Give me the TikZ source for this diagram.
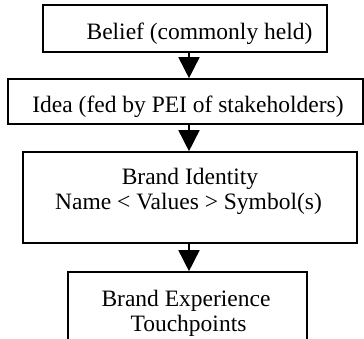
\documentclass[tikz,border=0pt]{standalone}
\usepackage{fontspec}
\setmainfont{Liberation Serif}
\usetikzlibrary{arrows.meta}
\begin{document}
\begin{tikzpicture}[x=1pt,y=-1pt,
  box/.style={draw=black,line width=1.6pt,inner sep=0pt},
  label/.style={font=\fontsize{23.5}{25}\selectfont,inner sep=0pt,anchor=base},
  flow/.style={line width=1.6pt,-{Triangle[width=21pt,length=21pt]}}]
\useasboundingbox (0,0) rectangle (364,339);
\clip (0,0) rectangle (364,339);
% boxes
\node[box,minimum width=284pt,minimum height=47pt] (belief) at (185,28.5) {};
\node[box,minimum width=355pt,minimum height=45pt] (idea) at (185.5,101.5) {};
\node[box,minimum width=334pt,minimum height=91pt] (identity) at (190,197.5) {};
\node[box,minimum width=239pt,minimum height=82pt] (experience) at (187.5,313) {};
% texts, one node per line, placed by baseline
\node[label] (tbelief) at (199.5,39.5) {Belief (commonly held)};
\node[label] (tidea) at (188,113) {Idea (fed by PEI of stakeholders)};
\node[label] (tidentity) at (190,185) {Brand Identity};
\node[label] (tnsv) at (188.5,210) {Name < Values > Symbol(s)};
\node[label] (texperience) at (186,306.5) {Brand Experience};
\node[label] (ttouch) at (188.5,331.5) {Touchpoints};
% connectors
\coordinate (axis) at (189,0);
\draw[flow] (belief.south -| axis) -- (idea.north -| axis);
\draw[flow] (idea.south -| axis) -- (identity.north -| axis);
\draw[flow] (identity.south -| axis) -- (experience.north -| axis);
\end{tikzpicture}
\end{document}
